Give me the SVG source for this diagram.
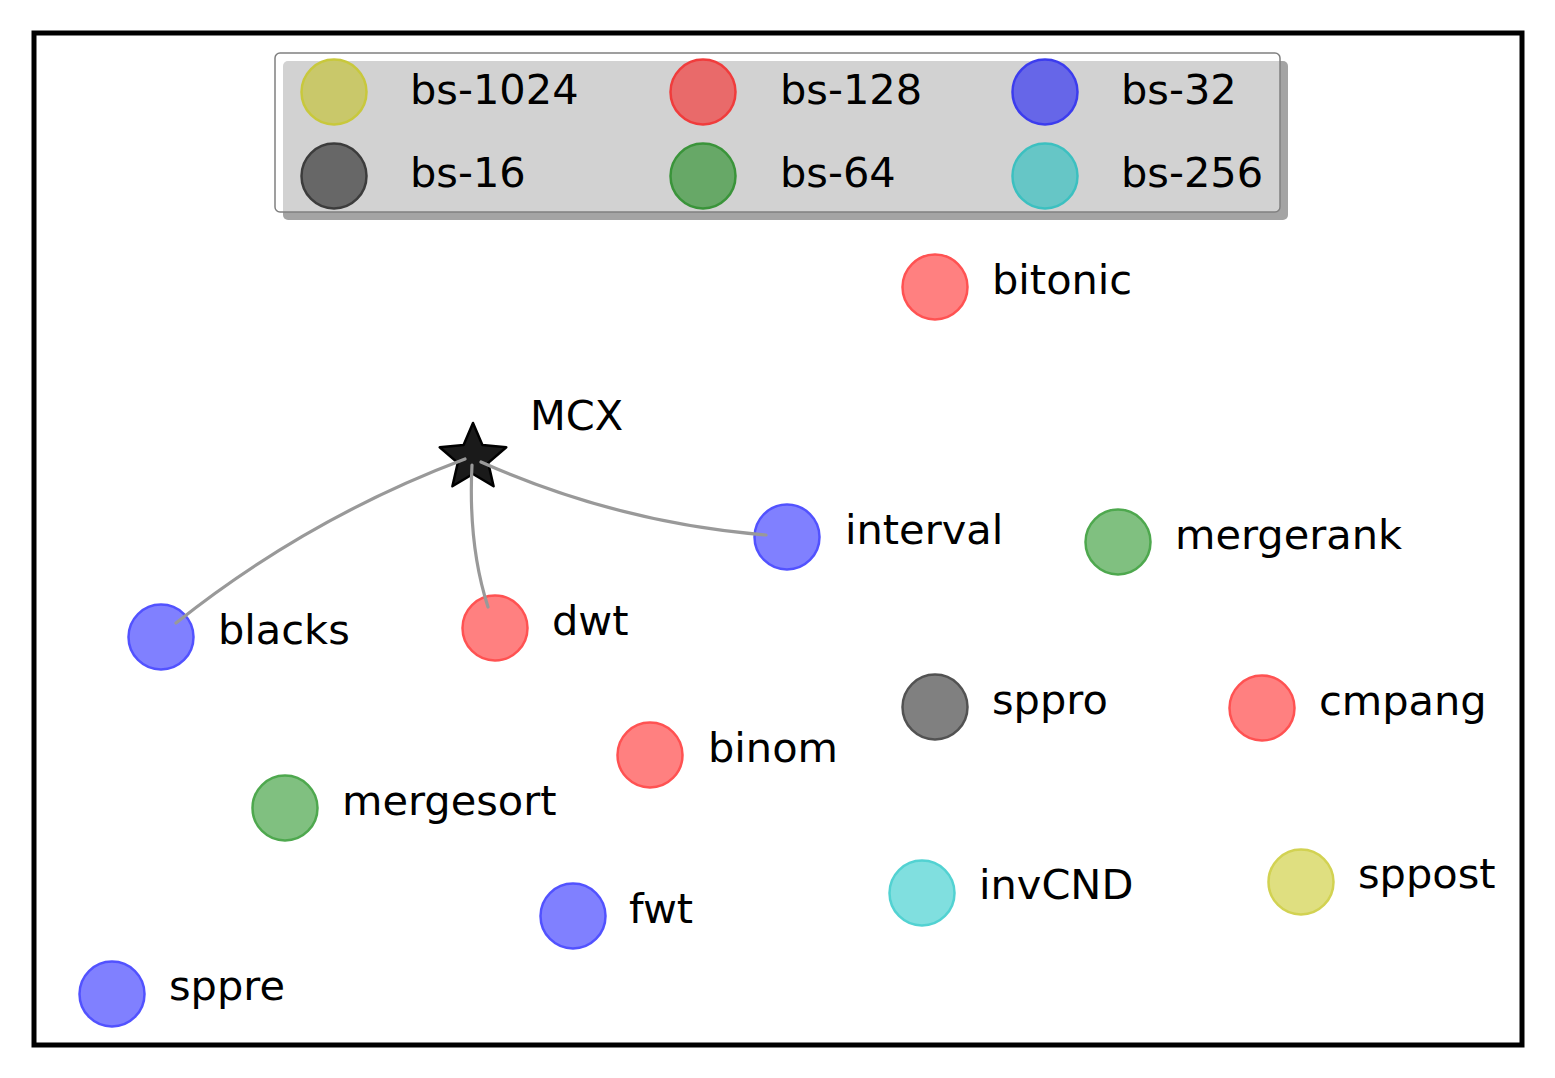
<svg xmlns="http://www.w3.org/2000/svg" width="1555" height="1078" viewBox="0 0 1555 1078">
<style>
text{font-family:"DejaVu Sans","Liberation Sans",sans-serif;font-size:41.5px;fill:#000}
.n{stroke-width:2.5}
.red{fill:#ff8080;stroke:#ff5252}
.blue{fill:#8080ff;stroke:#5252ff}
.green{fill:#80c080;stroke:#4ea84e}
.black{fill:#808080;stroke:#525252}
.cyan{fill:#80dfdf;stroke:#52d2d2}
.yellow{fill:#dfdf80;stroke:#d2d252}
.e{fill:none;stroke:#999;stroke-width:3.2;stroke-linecap:round}
</style>
<rect width="1555" height="1078" fill="#fff"/>
<rect x="34" y="33" width="1488" height="1012" fill="none" stroke="#000" stroke-width="5"/>
<g id="legend">
<rect x="283" y="61" width="1005" height="159" rx="5" fill="#a4a4a4"/>
<rect x="275" y="53" width="1005" height="159" rx="5" fill="#fff" fill-opacity="0.5" stroke="#808080" stroke-width="1.5"/>
<circle cx="334" cy="92" r="32.5" fill="#c9c86a" stroke="#c8c83c" stroke-width="2.5"/>
<text x="410" y="104">bs-1024</text>
<circle cx="703" cy="92" r="32.5" fill="#e96a6a" stroke="#f03c3c" stroke-width="2.5"/>
<text x="780" y="104">bs-128</text>
<circle cx="1045" cy="92" r="32.5" fill="#6666e8" stroke="#3c3cee" stroke-width="2.5"/>
<text x="1121" y="104">bs-32</text>
<circle cx="334" cy="176" r="32.5" fill="#676767" stroke="#3c3c3c" stroke-width="2.5"/>
<text x="410" y="187">bs-16</text>
<circle cx="703" cy="176" r="32.5" fill="#67a867" stroke="#3a943a" stroke-width="2.5"/>
<text x="780" y="187">bs-64</text>
<circle cx="1045" cy="176" r="32.5" fill="#66c6c6" stroke="#3cc0c0" stroke-width="2.5"/>
<text x="1121" y="187">bs-256</text>
</g>
<g id="node-bitonic"><circle class="n red" cx="935" cy="287" r="32.5"/><text x="992" y="294">bitonic</text></g>
<g id="node-MCX"><path d="M473,423 L482.4,445.1 L506.3,447.2 L488.2,462.9 L493.6,486.3 L473,474 L452.4,486.3 L457.8,462.9 L439.7,447.2 L463.6,445.1 Z" fill="#1a1a1a" stroke="#000" stroke-width="2.5" stroke-linejoin="round"/><text x="530" y="430">MCX</text></g>
<g id="node-interval"><circle class="n blue" cx="787" cy="537" r="32.5"/><text x="845" y="544">interval</text></g>
<g id="node-mergerank"><circle class="n green" cx="1118" cy="542" r="32.5"/><text x="1175" y="549">mergerank</text></g>
<g id="node-blacks"><circle class="n blue" cx="161" cy="637" r="32.5"/><text x="218" y="644">blacks</text></g>
<g id="node-dwt"><circle class="n red" cx="495" cy="628" r="32.5"/><text x="552" y="635">dwt</text></g>
<g id="node-sppro"><circle class="n black" cx="935" cy="707" r="32.5"/><text x="992" y="714">sppro</text></g>
<g id="node-cmpang"><circle class="n red" cx="1262" cy="708" r="32.5"/><text x="1319" y="715">cmpang</text></g>
<g id="node-binom"><circle class="n red" cx="650" cy="755" r="32.5"/><text x="708" y="762">binom</text></g>
<g id="node-mergesort"><circle class="n green" cx="285" cy="808" r="32.5"/><text x="342" y="815">mergesort</text></g>
<g id="node-invCND"><circle class="n cyan" cx="922" cy="893" r="32.5"/><text x="979" y="899">invCND</text></g>
<g id="node-sppost"><circle class="n yellow" cx="1301" cy="882" r="32.5"/><text x="1358" y="888">sppost</text></g>
<g id="node-fwt"><circle class="n blue" cx="573" cy="916" r="32.5"/><text x="629" y="923">fwt</text></g>
<g id="node-sppre"><circle class="n blue" cx="112" cy="994" r="32.5"/><text x="169" y="1000">sppre</text></g>
<g id="connectors">
<path class="e" d="M176,623 Q308,518 465,459"/>
<path class="e" d="M488,607 Q468,545 472,465"/>
<path class="e" d="M766,535 Q618,523 481,462"/>
</g>
</svg>
